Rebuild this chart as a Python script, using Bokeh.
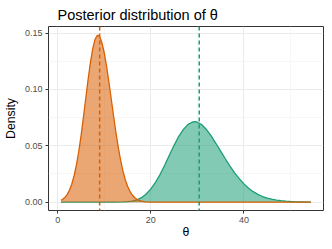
from bokeh.plotting import figure
from bokeh.models import Span, FixedTicker, NumeralTickFormatter, Range1d
from bokeh.embed import file_html
from bokeh.resources import INLINE

# ---- data ----
theta_orange = [0.7, 1, 1.5, 2, 2.5, 3, 3.5, 4, 4.5, 5, 5.5, 6, 6.5, 7, 7.5, 8, 8.5, 8.6,
                9, 9.5, 10, 10.5, 11, 11.5, 12, 12.5, 13, 13.5, 14, 14.5, 15, 15.5, 16,
                16.5, 17, 17.5, 18, 18.5, 19, 20, 54.4]
dens_orange = [0.0017, 0.0024, 0.0041, 0.0067, 0.0105, 0.0159, 0.0232, 0.0328, 0.0447,
               0.0588, 0.0747, 0.0915, 0.1081, 0.1233, 0.1358, 0.1443, 0.1479, 0.1480,
               0.1467, 0.1413, 0.1322, 0.1203, 0.1063, 0.0913, 0.0762, 0.0618, 0.0487,
               0.0373, 0.0277, 0.0200, 0.0141, 0.0096, 0.0064, 0.0041, 0.0026, 0.0016,
               0.0009, 0.0005, 0.0003, 0.0001, 0.0]

theta_green = [0.7, 10, 12, 14, 15, 16, 17, 18, 19, 20, 21, 22, 23, 24, 25, 26, 27, 28,
               29, 29.5, 30, 31, 32, 33, 34, 35, 36, 37, 38, 39, 40, 41, 42, 43, 44, 45,
               46, 47, 48, 49, 50, 51, 52, 53, 54, 54.4]
dens_green = [0.0, 0.0, 0.0, 0.0002, 0.0004, 0.0010, 0.0020, 0.0040, 0.0072, 0.0118,
              0.0176, 0.0247, 0.0330, 0.0418, 0.0504, 0.0584, 0.0646, 0.0690, 0.0711,
              0.0714, 0.0709, 0.0685, 0.0642, 0.0585, 0.0520, 0.0452, 0.0385, 0.0320,
              0.0260, 0.0208, 0.0162, 0.0124, 0.0093, 0.0069, 0.0050, 0.0036, 0.0026,
              0.0018, 0.0013, 0.0009, 0.0006, 0.0004, 0.0003, 0.0002, 0.0001, 0.0001]

posterior_means = [9.0, 30.4]          # orange, green
series_colors = ["#D95F02", "#1B9E77"]
x_ticks = [0, 20, 40]
x_minor = [10, 30, 50]
y_ticks = [0.0, 0.05, 0.10, 0.15]
y_minor = [0.025, 0.075, 0.125]

TITLE_FONT = "Arial"
TICK_FONT = "'Liberation Sans'"
LABEL_FONT = "Arial"

p = figure(width=324, height=241, output_backend="svg", toolbar_location=None,
           x_range=Range1d(-1.99, 57.1), y_range=Range1d(-0.0074, 0.1558),
           min_border_left=0, min_border_right=1, min_border_top=0, min_border_bottom=0)

p.background_fill_color = "white"
p.border_fill_color = "white"
p.outline_line_color = "#333333"
p.outline_line_width = 1

# title
p.title.text = "Posterior distribution of θ"
p.title.text_font = TITLE_FONT
p.title.text_font_size = "14.5px"
p.title.text_font_style = "normal"
p.title.text_color = "black"
p.title.align = "left"
p.title.offset = 9
p.title.standoff = 8

# axes
p.xaxis.ticker = FixedTicker(ticks=x_ticks, minor_ticks=x_minor)
p.yaxis.ticker = FixedTicker(ticks=y_ticks, minor_ticks=y_minor)
p.yaxis.formatter = NumeralTickFormatter(format="0.00")
p.xaxis.axis_label = "θ"
p.yaxis.axis_label = "Density"
for ax in (p.xaxis, p.yaxis):
    ax.axis_line_color = None
    ax.major_tick_line_color = "#333333"
    ax.major_tick_out = 3
    ax.major_tick_in = 0
    ax.minor_tick_line_color = None
    ax.major_label_text_font = TICK_FONT
    ax.major_label_text_font_size = "9px"
    ax.major_label_text_color = "#4D4D4D"
    ax.major_label_standoff = 2
    ax.axis_label_text_font = LABEL_FONT
    ax.axis_label_text_font_size = "12.3px"
    ax.axis_label_text_font_style = "normal"
    ax.axis_label_text_color = "black"
    ax.axis_label_text_line_height = 1.0
    ax.major_label_text_line_height = 1.0
p.xaxis.axis_label_standoff = -1
p.xaxis.major_label_standoff = 2
p.yaxis.axis_label_standoff = 4

# grids
for g in (p.xgrid, p.ygrid):
    g.grid_line_color = "#EBEBEB"
    g.grid_line_width = 1
    g.minor_grid_line_color = "#F2F2F2"
    g.minor_grid_line_width = 0.6

# densities (green group drawn first, then orange)
p.varea(x=theta_green, y1=0, y2=dens_green, fill_color=series_colors[1], fill_alpha=0.55)
p.line(theta_green, dens_green, line_color=series_colors[1], line_width=1.3)
p.varea(x=theta_orange, y1=0, y2=dens_orange, fill_color=series_colors[0], fill_alpha=0.55)
p.line(theta_orange, dens_orange, line_color=series_colors[0], line_width=1.3)

# posterior means
for m, c in zip(posterior_means, series_colors):
    p.add_layout(Span(location=m, dimension="height", line_color=c,
                      line_dash="4 3", line_width=1.5))

open("out.html", "w").write(file_html(p, INLINE))
